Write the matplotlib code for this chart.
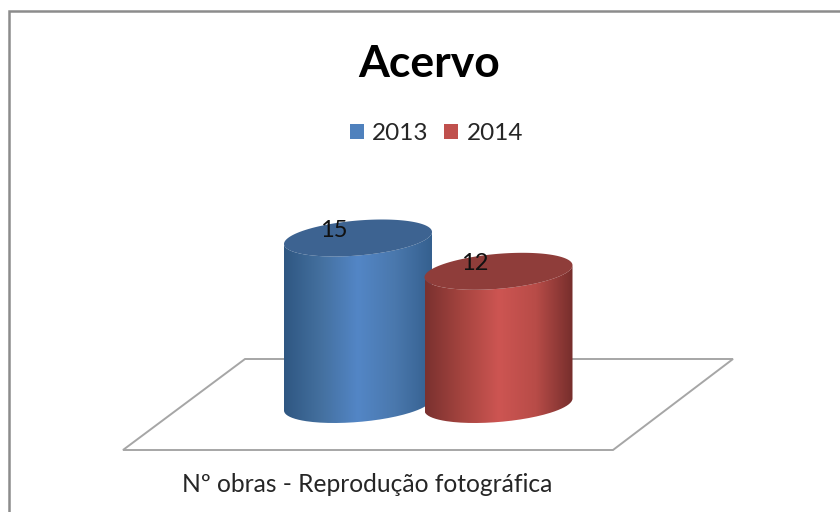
import numpy as np
import matplotlib
matplotlib.use('Agg')
import matplotlib.pyplot as plt
from matplotlib.colors import LinearSegmentedColormap
from matplotlib.patches import Patch, PathPatch, Polygon
from matplotlib.path import Path

years = ['2013', '2014']
values = [15, 12]
category = 'Nº obras - Reprodução fotográfica'
title = 'Acervo'

plt.rcParams['font.family'] = ['Lato', 'DejaVu Sans']

fig = plt.figure(figsize=(8.4, 5.12), dpi=100)
ax = fig.add_axes([0, 0, 1, 1])

# cylinder look
PX_PER_UNIT = 11.1
BASE_Y = 404.5
CENTERS = [358, 498.5]
RX, RY, TILT = 74, 17.5, 6
legend_colors = ['#4f81bd', '#c0504d']
top_colors = ['#3d6391', '#8f3d3a']
ramps = [['#2f5782', '#44709f', '#5386c6', '#4a78ad', '#35608f'],
         ['#7a312f', '#a5443f', '#cd5552', '#b84c48', '#762e2c']]


def ellipse(cx, cy, t):
    return cx + RX * np.cos(t), cy + RY * np.sin(t) - TILT * np.cos(t)


def draw_cylinder(cx, height, ramp, top_color, z):
    top_y = BASE_Y - height
    t = np.linspace(0, np.pi, 80)
    bx, by = ellipse(cx, BASE_Y, t)
    # body outline: down the right side, along the lower edge, up the left side
    tx, ty = ellipse(cx, top_y, t[::-1])
    body = Path(np.vstack([np.column_stack([bx, by]), np.column_stack([tx, ty])]), closed=False)
    patch = PathPatch(body, fc='none', ec='none', zorder=z)
    ax.add_patch(patch)
    cmap = LinearSegmentedColormap.from_list('side', ramp)
    grad = np.linspace(0, 1, 256).reshape(1, -1)
    im = ax.imshow(grad, cmap=cmap, extent=[cx - RX, cx + RX, BASE_Y + 30, top_y - 30],
                   aspect='auto', zorder=z)
    im.set_clip_path(patch)
    t2 = np.linspace(0, 2 * np.pi, 160)
    ex, ey = ellipse(cx, top_y, t2)
    ax.add_patch(Polygon(np.column_stack([ex, ey]), closed=True, fc=top_color, ec='none', zorder=z + 0.1))
    return top_y


# chart frame, only top and left are inside the picture
ax.plot([8.5, 8.5, 840], [512, 10.5, 10.5], color='#8c8c8c', lw=1.8, solid_joinstyle='miter', zorder=1)

# floor
floor = Polygon([(245, 359), (733, 359), (613, 450), (123, 450)], closed=True,
                fc='white', ec='#a6a6a6', lw=1.4, zorder=1)
ax.add_patch(floor)

for i, v in enumerate(values):
    top_y = draw_cylinder(CENTERS[i], v * PX_PER_UNIT, ramps[i], top_colors[i], 2 + i)
    ax.text(CENTERS[i] - 24, top_y - 7.5, str(v), fontsize=17, color='#111111',
            ha='center', va='center', zorder=5)

ax.text(429, 64, title, fontsize=32, fontweight='bold', color='black', ha='center', va='center')
ax.text(367.5, 485, category, fontsize=17.7, color='#262626', ha='center', va='center')

handles = [Patch(fc=c, ec='none', label=y) for c, y in zip(legend_colors, years)]
ax.legend(handles=handles, ncol=2, loc='center', bbox_to_anchor=(436.5 / 840, 1 - 134 / 512),
          frameon=False, fontsize=17.5, handlelength=0.58, handleheight=0.58,
          handletextpad=0.35, columnspacing=0.63, labelcolor='#262626')

ax.set_xlim(0, 840)
ax.set_ylim(512, 0)
ax.axis('off')
fig.savefig('out.png', dpi=100, facecolor='white')
